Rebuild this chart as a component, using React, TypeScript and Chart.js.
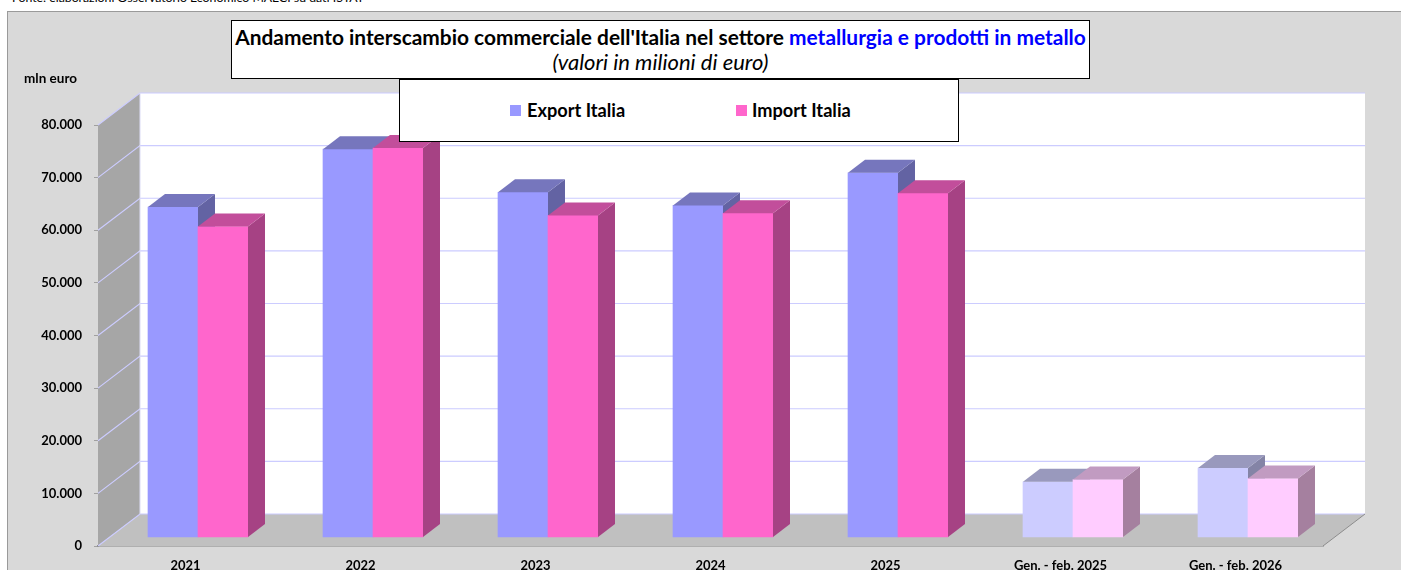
import React, { useEffect, useRef } from "react";
import { Chart, registerables } from "chart.js";

Chart.register(...registerables);

const categories = ["2021", "2022", "2023", "2024", "2025", "Gen. - feb. 2025", "Gen. - feb. 2026"];
const exportItalia = [62800, 73800, 65600, 63100, 69300, 10600, 13200];
const importItalia = [59100, 74000, 61200, 61600, 65400, 11000, 11200];

const exportFront = ["#9999ff", "#9999ff", "#9999ff", "#9999ff", "#9999ff", "#ccccff", "#ccccff"];
const exportTop = ["#7676bd", "#7676bd", "#7676bd", "#7676bd", "#7676bd", "#9999bd", "#9999bd"];
const exportSide = ["#6363a3", "#6363a3", "#6363a3", "#6363a3", "#6363a3", "#8484a6", "#8484a6"];
const importFront = ["#ff66cc", "#ff66cc", "#ff66cc", "#ff66cc", "#ff66cc", "#ffccff", "#ffccff"];
const importTop = ["#c24e9b", "#c24e9b", "#c24e9b", "#c24e9b", "#c24e9b", "#c19bc1", "#c19bc1"];
const importSide = ["#a64284", "#a64284", "#a64284", "#a64284", "#a64284", "#a5809f", "#a5809f"];

const FONT = "Lato, 'Open Sans', sans-serif";
const WALL_DX = 42;
const WALL_DY = 32;
const BAR_SHIFT_X = 12.5;
const BAR_SHIFT_Y = 8.5;
const BAR_DX = 17;
const BAR_DY = 13;

function poly(ctx: CanvasRenderingContext2D, pts: number[][], fill: string) {
  ctx.beginPath();
  pts.forEach(([x, y], i) => (i ? ctx.lineTo(x, y) : ctx.moveTo(x, y)));
  ctx.closePath();
  ctx.fillStyle = fill;
  ctx.fill();
}

const box3d = {
  id: "box3d",
  beforeDatasetsDraw(chart: any) {
    const { ctx, chartArea: a, scales } = chart;
    const y = scales.y;
    ctx.save();
    poly(ctx, [[a.left + WALL_DX, a.top - WALL_DY], [a.right + WALL_DX, a.top - WALL_DY], [a.right + WALL_DX, a.bottom - WALL_DY], [a.left + WALL_DX, a.bottom - WALL_DY]], "#ffffff");
    poly(ctx, [[a.left, a.top], [a.left + WALL_DX, a.top - WALL_DY], [a.left + WALL_DX, a.bottom - WALL_DY], [a.left, a.bottom]], "#a6a6a6");
    poly(ctx, [[a.left, a.bottom], [a.right, a.bottom], [a.right + WALL_DX, a.bottom - WALL_DY], [a.left + WALL_DX, a.bottom - WALL_DY]], "#c0c0c0");
    ctx.strokeStyle = "#ccccff";
    ctx.lineWidth = 1.2;
    y.ticks.forEach((t: any) => {
      const py = y.getPixelForValue(t.value);
      ctx.beginPath();
      ctx.moveTo(a.left, py);
      ctx.lineTo(a.left + WALL_DX, py - WALL_DY);
      ctx.lineTo(a.right + WALL_DX, py - WALL_DY);
      ctx.stroke();
    });
    ctx.beginPath();
    ctx.moveTo(a.left + WALL_DX, a.top - WALL_DY);
    ctx.lineTo(a.left + WALL_DX, a.bottom - WALL_DY);
    ctx.strokeStyle = "#dcdcf5";
    ctx.lineWidth = 1;
    ctx.stroke();
    ctx.beginPath();
    ctx.moveTo(a.right, a.bottom);
    ctx.lineTo(a.right + WALL_DX, a.bottom - WALL_DY);
    ctx.strokeStyle = "#8c8c8c";
    ctx.stroke();
    ctx.restore();
  },
  // Chart.js paints the first dataset last; here Export goes first so that
  // the Import bar's top face covers Export's side face, as in the reference.
  beforeDatasetDraw() {
    return false;
  },
  afterDatasetsDraw(chart: any) {
    const { ctx, data } = chart;
    ctx.save();
    ctx.translate(BAR_SHIFT_X, -BAR_SHIFT_Y);
    data.datasets.forEach((ds: any, index: number) => {
      const meta = chart.getDatasetMeta(index);
      meta.controller.draw();
      meta.data.forEach((el: any, i: number) => {
        const { x, y, base, width } = el.getProps(["x", "y", "base", "width"], true);
        const l = x - width / 2;
        const r = x + width / 2;
        poly(ctx, [[r, y], [r + BAR_DX, y - BAR_DY], [r + BAR_DX, base - BAR_DY], [r, base]], ds.sideColors[i]);
        poly(ctx, [[l, y], [l + BAR_DX, y - BAR_DY], [r + BAR_DX, y - BAR_DY], [r, y]], ds.topColors[i]);
      });
    });
    ctx.restore();
  },
};

const boxStyle: React.CSSProperties = {
  position: "absolute",
  boxSizing: "border-box",
  background: "#ffffff",
  border: "1px solid #000000",
  fontFamily: FONT,
  color: "#000000",
};

export default function App() {
  const ref = useRef<HTMLCanvasElement>(null);
  useEffect(() => {
    const chart = new Chart(ref.current!, {
      type: "bar",
      data: {
        labels: categories,
        datasets: [
          { label: "Export Italia", data: exportItalia, backgroundColor: exportFront, topColors: exportTop, sideColors: exportSide, barThickness: 50 } as any,
          { label: "Import Italia", data: importItalia, backgroundColor: importFront, topColors: importTop, sideColors: importSide, barThickness: 50 } as any,
        ],
      },
      options: {
        animation: false,
        responsive: false,
        layout: { padding: { top: 125, right: 78, left: 0, bottom: 0 } },
        plugins: { legend: { display: false }, title: { display: false }, tooltip: { enabled: false } },
        scales: {
          x: {
            afterFit: (s: any) => { s.height = 24; },
            grid: { display: false, drawTicks: false },
            border: { display: true, color: "#868686", width: 1.5 },
            ticks: { color: "#000000", font: { family: FONT, size: 13, weight: "bold" }, padding: 12, maxRotation: 0, autoSkip: false },
          },
          y: {
            min: 0,
            max: 80000,
            afterFit: (s: any) => { s.width = 98; },
            grid: { drawOnChartArea: false, drawTicks: true, tickLength: 4, color: "#a0a0a0" },
            border: { display: true, color: "#868686", width: 1 },
            ticks: {
              stepSize: 10000,
              color: "#000000",
              font: { family: FONT, size: 13, weight: "bold" },
              padding: 12,
              callback: (v: any) => (v === 0 ? "0" : `${Math.floor(v / 1000)}.${String(v % 1000).padStart(3, "0")}`),
            },
          },
        },
      },
      plugins: [box3d],
    } as any);
    return () => chart.destroy();
  }, []);

  return (
    <div style={{ position: "fixed", left: 0, top: 0, width: 1401, height: 570, overflow: "hidden", background: "#ffffff" }}>
      <div style={{ position: "absolute", left: 7, top: 11, width: 1400, height: 570, boxSizing: "border-box", background: "#d9d9d9", borderTop: "1.5px solid #9a9a9a", borderLeft: "1.5px solid #9a9a9a" }} />
      <div style={{ position: "absolute", left: 12, top: -10, fontFamily: FONT, fontSize: 12.3, color: "#000", whiteSpace: "nowrap" }}>
        Fonte: elaborazioni Osservatorio Economico MAECI su dati ISTAT
      </div>
      <canvas ref={ref} width={1401} height={570} style={{ position: "absolute", left: 0, top: 0, width: 1401, height: 570 }} />
      <div style={{ position: "absolute", left: 24, top: 70, fontFamily: FONT, fontSize: 13.5, fontWeight: 700, color: "#000", whiteSpace: "nowrap" }}>mln euro</div>
      <div style={{ ...boxStyle, left: 231, top: 20, width: 859, height: 59, textAlign: "center" }}>
        <div style={{ fontSize: 20.9, fontWeight: 700, lineHeight: "24px", marginTop: 4, whiteSpace: "nowrap" }}>
          Andamento interscambio commerciale dell'Italia nel settore <span style={{ color: "#0000ff" }}>metallurgia e prodotti in metallo</span>
        </div>
        <div style={{ fontSize: 22, fontStyle: "italic", lineHeight: "24px", marginTop: 1, whiteSpace: "nowrap" }}>(valori in milioni di euro)</div>
      </div>
      <div style={{ ...boxStyle, left: 399, top: 79, width: 560, height: 63 }}>
        <div style={{ position: "absolute", left: 110, top: 25, width: 11, height: 11, background: "#9999ff" }} />
        <div style={{ position: "absolute", left: 127, top: 19, fontSize: 18.2, fontWeight: 700, lineHeight: "22px", whiteSpace: "nowrap" }}>Export Italia</div>
        <div style={{ position: "absolute", left: 336, top: 25, width: 11, height: 11, background: "#ff66cc" }} />
        <div style={{ position: "absolute", left: 352, top: 19, fontSize: 18.2, fontWeight: 700, lineHeight: "22px", whiteSpace: "nowrap" }}>Import Italia</div>
      </div>
    </div>
  );
}
